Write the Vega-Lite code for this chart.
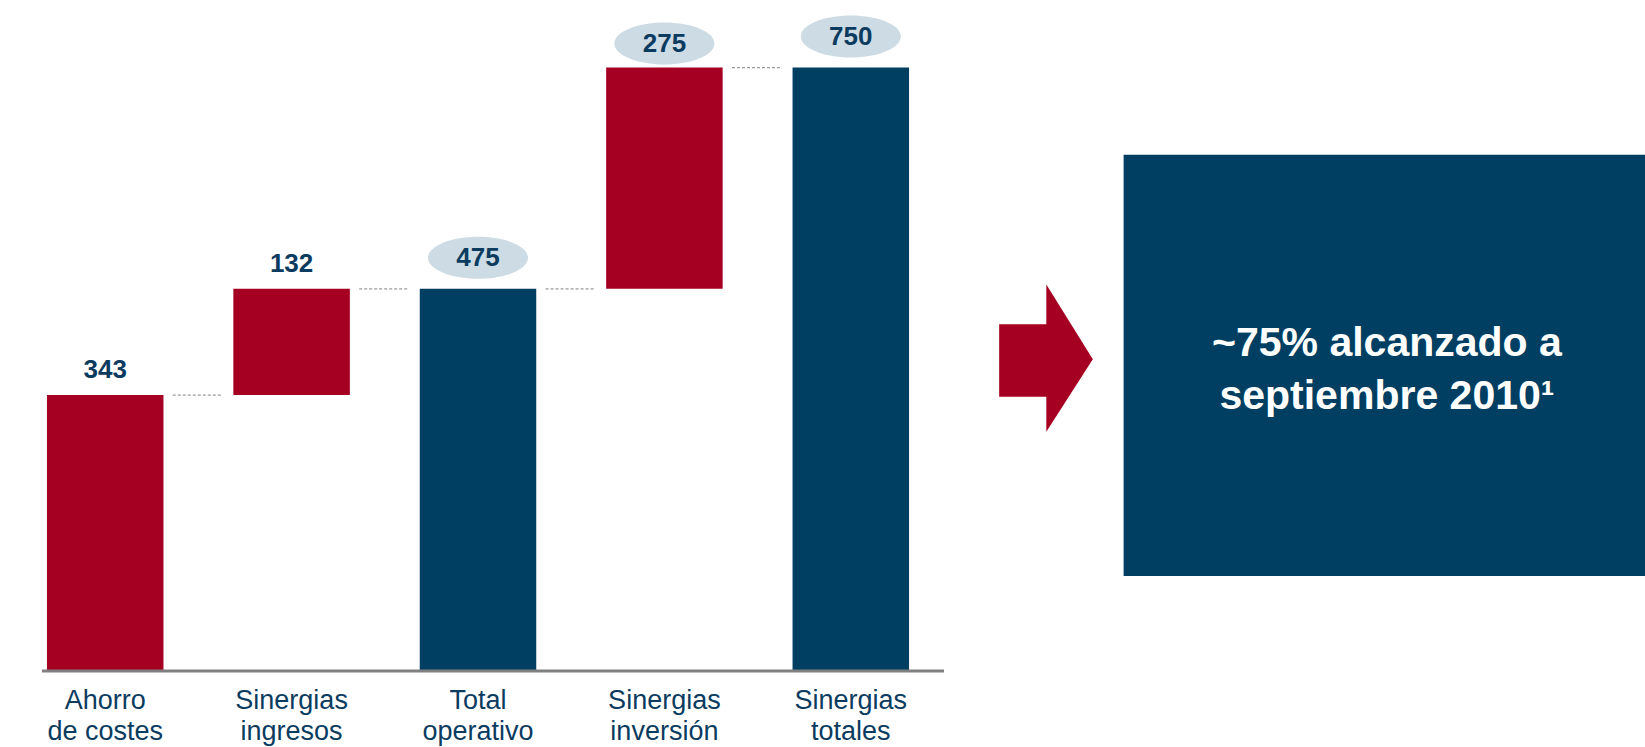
{
  "$schema": "https://vega.github.io/schema/vega-lite/v6.json",
  "background": "white",
  "padding": {"left": 12, "top": 0, "right": 0, "bottom": 0},
  "config": {
    "view": {"stroke": null},
    "font": "Liberation Sans",
    "concat": {"spacing": 44}
  },
  "datasets": {
    "barras": [
      {"cat": "Ahorro de costes", "start": 0, "end": 343, "valor": 343, "tipo": "parcial"},
      {"cat": "Sinergias ingresos", "start": 343, "end": 475, "valor": 132, "tipo": "parcial"},
      {"cat": "Total operativo", "start": 0, "end": 475, "valor": 475, "tipo": "total"},
      {"cat": "Sinergias inversión", "start": 475, "end": 750, "valor": 275, "tipo": "parcial"},
      {"cat": "Sinergias totales", "start": 0, "end": 750, "valor": 750, "tipo": "total"}
    ],
    "conectores": [
      {"from": "Ahorro de costes", "to": "Sinergias ingresos", "nivel": 343},
      {"from": "Sinergias ingresos", "to": "Total operativo", "nivel": 475},
      {"from": "Total operativo", "to": "Sinergias inversión", "nivel": 475},
      {"from": "Sinergias inversión", "to": "Sinergias totales", "nivel": 750}
    ],
    "eje": [{"from": "Ahorro de costes", "to": "Sinergias totales", "nivel": 0}],
    "caja": [{"x0": 20.4, "x1": 100, "y0": 22.9, "y1": 79.3}],
    "flecha_cuerpo": [{"x0": 1.4, "x1": 8.7, "y0": 46.9, "y1": 56.6}],
    "flecha_punta": [
      {"x": 8.6, "lo": 42.2, "hi": 61.9},
      {"x": 15.7, "lo": 51.9, "hi": 51.9}
    ],
    "texto": [
      {"x": 60.6, "y": 54.0, "t": "~75% alcanzado a"},
      {"x": 60.6, "y": 46.9, "t": "septiembre 2010¹"}
    ]
  },
  "hconcat": [
    {
      "width": 932,
      "height": 671,
      "layer": [
        {
          "data": {"name": "barras"},
          "mark": {"type": "bar"},
          "encoding": {
            "x": {
              "field": "cat",
              "type": "nominal",
              "title": null,
              "scale": {
                "domain": ["Ahorro de costes", "Sinergias ingresos", "Total operativo", "Sinergias inversión", "Sinergias totales"],
                "paddingInner": 0.375,
                "paddingOuter": 0.1875
              },
              "axis": {
                "labelAngle": 0,
                "ticks": false,
                "domain": false,
                "labelFontSize": 27,
                "labelColor": "#0b3c5f",
                "labelFont": "Liberation Sans",
                "labelLineHeight": 31,
                "labelPadding": 16,
                "labelBaseline": "top",
                "labelExpr": "datum.value == 'Ahorro de costes' ? ['Ahorro', 'de costes'] : split(datum.value, ' ')"
              }
            },
            "y": {
              "field": "start",
              "type": "quantitative",
              "scale": {"domain": [0, 834], "nice": false},
              "axis": null
            },
            "y2": {"field": "end"},
            "color": {
              "field": "tipo",
              "type": "nominal",
              "scale": {"domain": ["parcial", "total"], "range": ["#a50021", "#003f62"]},
              "legend": null
            }
          }
        },
        {
          "data": {"name": "eje"},
          "mark": {"type": "rule", "color": "#808080", "strokeWidth": 3},
          "encoding": {
            "x": {"field": "from", "type": "nominal", "bandPosition": -0.043},
            "x2": {"field": "to", "bandPosition": 1.3},
            "y": {"field": "nivel", "type": "quantitative"}
          }
        },
        {
          "data": {"name": "conectores"},
          "mark": {"type": "rule", "color": "#9a9a9a", "strokeWidth": 1.2, "strokeDash": [3, 2]},
          "encoding": {
            "x": {"field": "from", "type": "nominal", "bandPosition": 1.08},
            "x2": {"field": "to", "bandPosition": -0.1},
            "y": {"field": "nivel", "type": "quantitative"}
          }
        },
        {
          "data": {"name": "barras"},
          "transform": [{"filter": {"field": "cat", "oneOf": ["Total operativo", "Sinergias totales"]}}],
          "mark": {
            "type": "point",
            "shape": "M-1,0A1,0.42,0,1,1,1,0A1,0.42,0,1,1,-1,0Z",
            "size": 10000,
            "filled": true,
            "opacity": 1,
            "color": "#cddbe4",
            "strokeWidth": 0,
            "yOffset": -31
          },
          "encoding": {
            "x": {"field": "cat", "type": "nominal"},
            "y": {"field": "end", "type": "quantitative"}
          }
        },
        {
          "data": {"name": "barras"},
          "transform": [{"filter": {"field": "cat", "oneOf": ["Sinergias inversión"]}}],
          "mark": {
            "type": "point",
            "shape": "M-1,0A1,0.42,0,1,1,1,0A1,0.42,0,1,1,-1,0Z",
            "size": 10000,
            "filled": true,
            "opacity": 1,
            "color": "#cddbe4",
            "strokeWidth": 0,
            "yOffset": -24
          },
          "encoding": {
            "x": {"field": "cat", "type": "nominal"},
            "y": {"field": "end", "type": "quantitative"}
          }
        },
        {
          "data": {"name": "barras"},
          "transform": [{"filter": {"field": "cat", "oneOf": ["Total operativo", "Sinergias totales"]}}],
          "mark": {
            "type": "text",
            "fontSize": 26,
            "fontWeight": "bold",
            "color": "#0b3c5f",
            "baseline": "middle",
            "align": "center",
            "yOffset": -31
          },
          "encoding": {
            "x": {"field": "cat", "type": "nominal"},
            "y": {"field": "end", "type": "quantitative"},
            "text": {"field": "valor", "type": "quantitative"}
          }
        },
        {
          "data": {"name": "barras"},
          "transform": [{"filter": {"field": "cat", "oneOf": ["Sinergias inversión"]}}],
          "mark": {
            "type": "text",
            "fontSize": 26,
            "fontWeight": "bold",
            "color": "#0b3c5f",
            "baseline": "middle",
            "align": "center",
            "yOffset": -24
          },
          "encoding": {
            "x": {"field": "cat", "type": "nominal"},
            "y": {"field": "end", "type": "quantitative"},
            "text": {"field": "valor", "type": "quantitative"}
          }
        },
        {
          "data": {"name": "barras"},
          "transform": [{"filter": {"field": "cat", "oneOf": ["Ahorro de costes", "Sinergias ingresos"]}}],
          "mark": {
            "type": "text",
            "fontSize": 26,
            "fontWeight": "bold",
            "color": "#0b3c5f",
            "baseline": "middle",
            "align": "center",
            "yOffset": -25
          },
          "encoding": {
            "x": {"field": "cat", "type": "nominal"},
            "y": {"field": "end", "type": "quantitative"},
            "text": {"field": "valor", "type": "quantitative"}
          }
        }
      ]
    },
    {
      "width": 655,
      "height": 747,
      "layer": [
        {
          "data": {"name": "caja"},
          "mark": {"type": "rect", "color": "#003f62"},
          "encoding": {
            "x": {"field": "x0", "type": "quantitative", "scale": {"domain": [0, 100], "nice": false, "zero": false}, "axis": null},
            "x2": {"field": "x1"},
            "y": {"field": "y0", "type": "quantitative", "scale": {"domain": [0, 100], "nice": false, "zero": false}, "axis": null},
            "y2": {"field": "y1"}
          }
        },
        {
          "data": {"name": "flecha_cuerpo"},
          "mark": {"type": "rect", "color": "#a50021"},
          "encoding": {
            "x": {"field": "x0", "type": "quantitative"},
            "x2": {"field": "x1"},
            "y": {"field": "y0", "type": "quantitative"},
            "y2": {"field": "y1"}
          }
        },
        {
          "data": {"name": "flecha_punta"},
          "mark": {"type": "area", "color": "#a50021", "orient": "vertical", "opacity": 1},
          "encoding": {
            "x": {"field": "x", "type": "quantitative"},
            "y": {"field": "lo", "type": "quantitative"},
            "y2": {"field": "hi"}
          }
        },
        {
          "data": {"name": "texto"},
          "mark": {"type": "text", "color": "white", "fontSize": 41, "fontWeight": "bold", "align": "center", "baseline": "middle"},
          "encoding": {
            "x": {"field": "x", "type": "quantitative"},
            "y": {"field": "y", "type": "quantitative"},
            "text": {"field": "t", "type": "nominal"}
          }
        }
      ]
    }
  ]
}
